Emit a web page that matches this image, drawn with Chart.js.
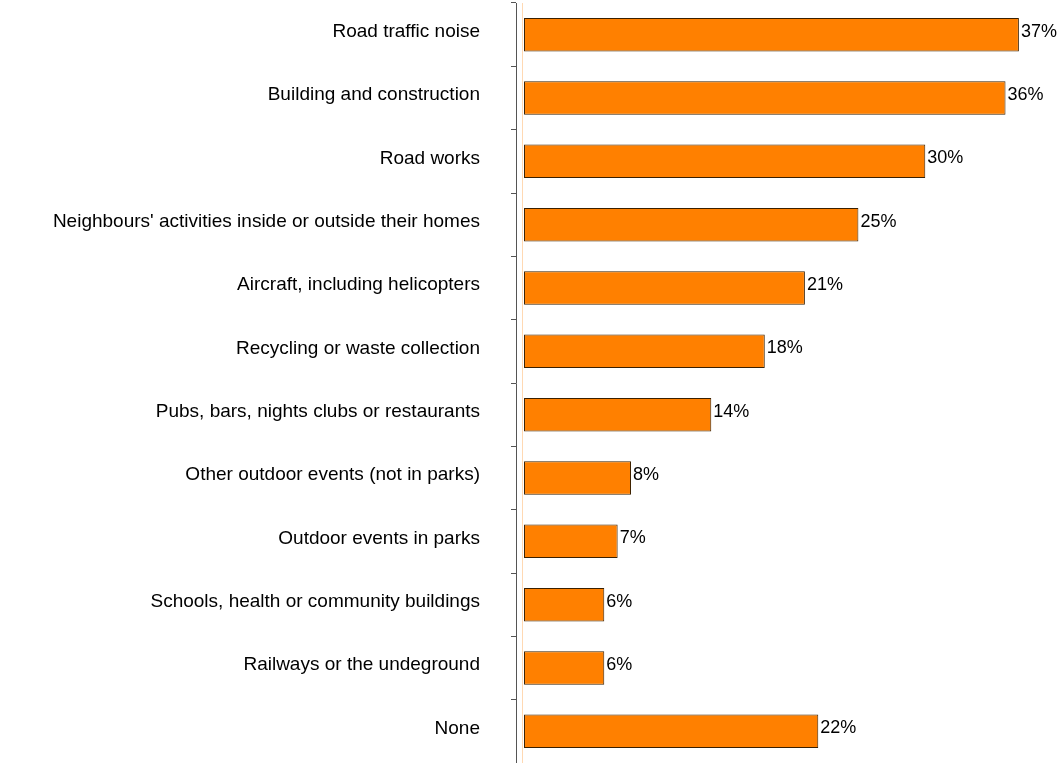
<!DOCTYPE html>
<html>
<head>
<meta charset="utf-8">
<script src="https://cdn.jsdelivr.net/npm/chart.js@4"></script>
<style>
  html, body { margin: 0; padding: 0; background: #ffffff; }
  #wrap { width: 1059px; height: 763px; position: relative; }
</style>
</head>
<body>
<div id="wrap"><canvas id="c"></canvas></div>
<script>
const categories = [
  "Road traffic noise",
  "Building and construction",
  "Road works",
  "Neighbours' activities inside or outside their homes",
  "Aircraft, including helicopters",
  "Recycling or waste collection",
  "Pubs, bars, nights clubs or restaurants",
  "Other outdoor events (not in parks)",
  "Outdoor events in parks",
  "Schools, health or community buildings",
  "Railways or the undeground",
  "None"
];
const percentValues = [37, 36, 30, 25, 21, 18, 14, 8, 7, 6, 6, 22];
const valueLabels = ["37%", "36%", "30%", "25%", "21%", "18%", "14%", "8%", "7%", "6%", "6%", "22%"];

const FONT = "'Liberation Sans', Arial, sans-serif";

const extras = {
  id: 'extras',
  afterDatasetsDraw(chart) {
    const ctx = chart.ctx;
    const xs = chart.scales.x;
    const ys = chart.scales.y;
    const area = chart.chartArea;
    ctx.save();
    // faint zero line
    const x0 = Math.round(xs.getPixelForValue(0)) - 1.5;
    ctx.strokeStyle = '#ffd9b3';
    ctx.lineWidth = 1;
    ctx.beginPath();
    ctx.moveTo(x0, area.top);
    ctx.lineTo(x0, area.bottom);
    ctx.stroke();
    ctx.fillStyle = '#000';
    ctx.textBaseline = 'middle';
    // category labels
    ctx.font = '19px ' + FONT;
    ctx.textAlign = 'right';
    categories.forEach((c, i) => {
      ctx.fillText(c, ys.right - 36, ys.getPixelForValue(i) - 3);
    });
    // value labels
    ctx.font = '18px ' + FONT;
    ctx.textAlign = 'left';
    const meta = chart.getDatasetMeta(0);
    meta.data.forEach((bar, i) => {
      ctx.fillText(valueLabels[i], bar.x + 2, bar.y - 3);
    });
    ctx.restore();
  }
};

new Chart(document.getElementById('c'), {
  type: 'bar',
  data: {
    labels: categories,
    datasets: [{
      data: percentValues,
      backgroundColor: '#ff8000',
      borderColor: '#3a2000',
      borderWidth: 1,
      borderSkipped: false,
      barPercentage: 0.53,
      categoryPercentage: 1.0
    }]
  },
  options: {
    indexAxis: 'y',
    responsive: true,
    maintainAspectRatio: false,
    animation: false,
    layout: { padding: { top: 3, right: 8, bottom: 0, left: 0 } },
    plugins: { legend: { display: false }, tooltip: { enabled: false } },
    scales: {
      x: {
        display: false,
        min: -0.6,
        max: 39.4
      },
      y: {
        afterFit(scale) { scale.width = 516; },
        grid: {
          display: true,
          drawOnChartArea: false,
          drawTicks: true,
          tickLength: 5,
          color: '#555',
          offset: true
        },
        border: { display: true, color: '#555', width: 1 },
        ticks: { display: false, autoSkip: false }
      }
    }
  },
  plugins: [extras]
});
</script>
</body>
</html>
